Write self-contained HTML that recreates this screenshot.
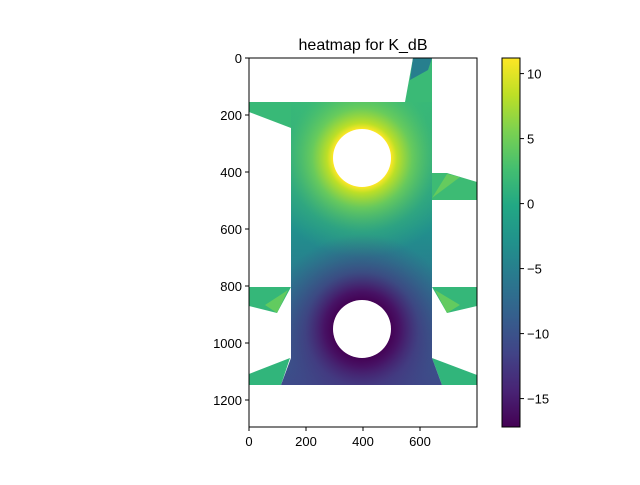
<!DOCTYPE html>
<html><head><meta charset="utf-8"><style>
body{margin:0;background:#fff;}
svg text{font-family:"Liberation Sans",sans-serif;}
</style></head><body>
<svg width="640" height="480" viewBox="0 0 640 480" xmlns="http://www.w3.org/2000/svg">
<defs>
<linearGradient id="body" x1="0" y1="102" x2="0" y2="385" gradientUnits="userSpaceOnUse">
<stop offset="0" stop-color="#37b878"/><stop offset="0.45" stop-color="#21908d"/><stop offset="0.7" stop-color="#2c718e"/><stop offset="1" stop-color="#3e4a89"/>
</linearGradient>
<radialGradient id="hot" cx="362" cy="158" r="100" gradientUnits="userSpaceOnUse">
<stop offset="0.29" stop-color="#fde725"/><stop offset="0.35" stop-color="#bddf26"/><stop offset="0.5" stop-color="#6ece58" stop-opacity="0.9"/><stop offset="0.75" stop-color="#3fbc73" stop-opacity="0.4"/><stop offset="1" stop-color="#35b779" stop-opacity="0"/>
</radialGradient>
<radialGradient id="cold" cx="362" cy="329" r="95" gradientUnits="userSpaceOnUse">
<stop offset="0.3" stop-color="#440154"/><stop offset="0.4" stop-color="#471365"/><stop offset="0.6" stop-color="#472d7b" stop-opacity="0.6"/><stop offset="1" stop-color="#3e4a89" stop-opacity="0"/>
</radialGradient>
<linearGradient id="cbar" x1="0" y1="1" x2="0" y2="0">
<stop offset="0" stop-color="#440154"/><stop offset="0.1" stop-color="#482475"/><stop offset="0.2" stop-color="#414487"/><stop offset="0.3" stop-color="#355f8d"/><stop offset="0.4" stop-color="#2a788e"/><stop offset="0.5" stop-color="#21918c"/><stop offset="0.6" stop-color="#22a884"/><stop offset="0.7" stop-color="#44bf70"/><stop offset="0.8" stop-color="#7ad151"/><stop offset="0.9" stop-color="#bddf26"/><stop offset="1" stop-color="#fde725"/>
</linearGradient>
<clipPath id="plot"><rect x="249" y="58" width="228" height="369"/></clipPath>
</defs>
<text x="363" y="50" font-size="16" text-anchor="middle">heatmap for K_dB</text>
<g clip-path="url(#plot)">
<polygon points="249,102 291,102 291,128 249,112" fill="#38b977"/>
<polygon points="413,58 432,58 432,102 405,102" fill="#3aba76"/>
<polygon points="413,58 432,58 428,70 410,80" fill="#277f8e"/>
<polygon points="432,173 447,173 477,182 477,200 432,200" fill="#3dbb74"/>
<polygon points="447,174 460,177 432,198" fill="#65cb5e"/>
<polygon points="249,287 291,287 277,313 249,306" fill="#35b779"/>
<polygon points="288,290 277,313 265,305" fill="#62cb5f"/>
<polygon points="432,287 477,287 477,306 447,313" fill="#35b779"/>
<polygon points="435,290 447,313 460,305" fill="#62cb5f"/>
<polygon points="249,374 290,358 281,385 249,385" fill="#31b57b"/>
<polygon points="432,358 477,375 477,385 442,385" fill="#31b57b"/>
<polygon points="291,102 432,102 432,358 442,385 281,385 291,358" fill="url(#body)"/>
<polygon points="291,102 432,102 432,358 442,385 281,385 291,358" fill="url(#hot)"/>
<polygon points="291,102 432,102 432,358 442,385 281,385 291,358" fill="url(#cold)"/>
<circle cx="362" cy="158" r="29" fill="#fff"/>
<circle cx="362" cy="329" r="29" fill="#fff"/>
</g>
<rect x="249" y="58" width="228" height="369" fill="none" stroke="#000" stroke-width="1"/>
<g id="axes" font-size="13"></g>
<rect x="502" y="58" width="18" height="369" fill="url(#cbar)" stroke="#000" stroke-width="1"/>
<g id="cb" font-size="13"></g>
</svg>
<script>
const xTicks=[0,200,400,600];
const yTicks=[0,200,400,600,800,1000,1200];
const cbTicks=[10,5,0,-5,-10,-15];
const xs=v=>249+v*0.285, ys=v=>58+v*0.285;
const cb=v=>58+(11.2-v)*13;
const NS='http://www.w3.org/2000/svg';
const ax=document.getElementById('axes'), cg=document.getElementById('cb');
function mk(tag,attrs,p,txt){const e=document.createElementNS(NS,tag);for(const k in attrs)e.setAttribute(k,attrs[k]);if(txt!==undefined)e.textContent=txt;p.appendChild(e);return e;}
xTicks.forEach(v=>{const x=xs(v);
const l=mk('line',{x1:x,x2:x,y1:427,y2:431,stroke:'#000'},ax);


const t=mk('text',{x:x,y:446,'text-anchor':'middle'},ax,String(v));

});
yTicks.forEach(v=>{const y=ys(v);
const l=mk('line',{x1:245,x2:249,y1:y,y2:y,stroke:'#000'},ax);


const t=mk('text',{x:242,y:y+5,'text-anchor':'end'},ax,String(v));

});
cbTicks.forEach(v=>{const y=cb(v);
const l=mk('line',{x1:520,x2:524,y1:y,y2:y,stroke:'#000'},cg);


const t=mk('text',{x:527,y:y+5},cg,v<0?'\u2212'+Math.abs(v):String(v));

});
</script>
</body></html>
